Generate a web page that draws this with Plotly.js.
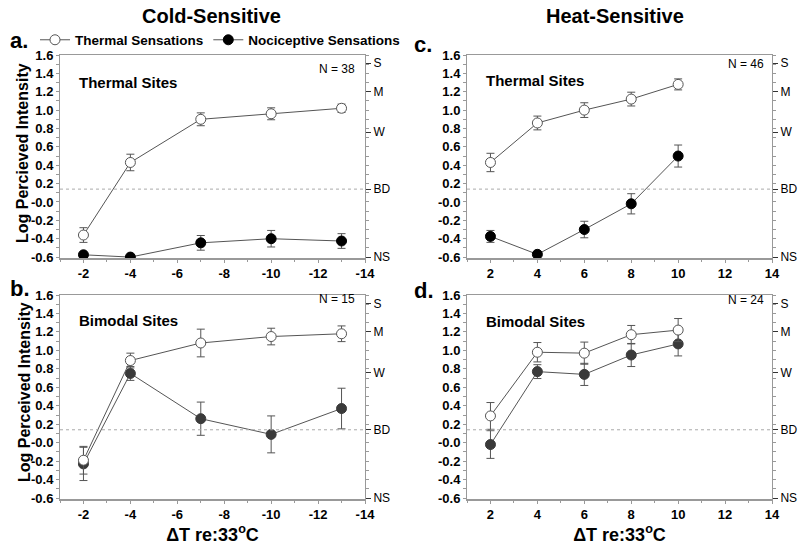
<!DOCTYPE html>
<html>
<head>
<meta charset="utf-8">
<script src="https://cdn.plot.ly/plotly-3.0.1.min.js"></script>
<style>html,body{margin:0;padding:0;background:#fff;}#chart{width:800px;height:545px;}</style>
</head>
<body>
<div id="chart"></div>
<script>
// ---- data ----
const xCold = [-2, -4, -7, -10, -13];
const xHeat = [2, 4, 6, 8, 10];

const aThermal = [-0.36, 0.43, 0.90, 0.96, 1.02];
const aThermalErr = [0.08, 0.09, 0.07, 0.065, 0.045];
const aNoci = [-0.575, -0.60, -0.445, -0.40, -0.425];
const aNociErr = [0.015, 0.01, 0.08, 0.09, 0.08];

const bThermal = [-0.19, 0.89, 1.08, 1.15, 1.18];
const bThermalErr = [0.15, 0.08, 0.15, 0.09, 0.085];
const bNoci = [-0.23, 0.75, 0.26, 0.09, 0.37];
const bNociErr = [0.18, 0.075, 0.18, 0.2, 0.22];

const cThermal = [0.43, 0.86, 1.00, 1.12, 1.28];
const cThermalErr = [0.10, 0.075, 0.08, 0.075, 0.06];
const cNoci = [-0.375, -0.57, -0.30, -0.02, 0.50];
const cNociErr = [0.065, 0.01, 0.09, 0.11, 0.12];

const dThermal = [0.29, 0.98, 0.97, 1.17, 1.22];
const dThermalErr = [0.145, 0.105, 0.12, 0.10, 0.125];
const dNoci = [-0.02, 0.77, 0.74, 0.95, 1.07];
const dNociErr = [0.15, 0.075, 0.12, 0.125, 0.13];

const yTickVals = [-0.6, -0.4, -0.2, 0, 0.2, 0.4, 0.6, 0.8, 1.0, 1.2, 1.4, 1.6];
const yTickText = ['-0.6', '-0.4', '-0.2', '-0.0', '0.2', '0.4', '0.6', '0.8', '1.0', '1.2', '1.4', '1.6'];
const scaleVals = [1.51, 1.20, 0.76, 0.14, -0.6];
const scaleText = ['S', 'M', 'W', 'BD', 'NS'];
const bdLevel = 0.14;
const coldTicks = [-2, -4, -6, -8, -10, -12, -14];
const heatTicks = [2, 4, 6, 8, 10, 12, 14];
const nLabels = ['N = 38', 'N = 15', 'N = 46', 'N = 24'];

// ---- styling ----
const FONT = 'Liberation Sans, Arial, sans-serif';
const lineCol = '#555';
const axCol = '#999';

function openTrace(x, y, e, xa, ya, show) {
  return {x: x, y: y, xaxis: xa, yaxis: ya, type: 'scatter', mode: 'lines+markers',
    name: 'Thermal Sensations', showlegend: show, legendrank: 1,
    line: {color: lineCol, width: 1},
    marker: {symbol: 'circle', size: 10, color: '#fff', line: {color: lineCol, width: 1}},
    error_y: {type: 'data', array: e, visible: true, color: lineCol, thickness: 1, width: 4}};
}
function fillTrace(x, y, e, xa, ya, col, show) {
  return {x: x, y: y, xaxis: xa, yaxis: ya, type: 'scatter', mode: 'lines+markers',
    name: 'Nociceptive Sensations', showlegend: show, legendrank: 2,
    line: {color: lineCol, width: 1},
    marker: {symbol: 'circle', size: 10, color: col, line: {color: col, width: 1}},
    error_y: {type: 'data', array: e, visible: true, color: lineCol, thickness: 1, width: 4}};
}

const data = [
  fillTrace(xCold, aNoci, aNociErr, 'x', 'y', '#000', true),
  openTrace(xCold, aThermal, aThermalErr, 'x', 'y', true),
  fillTrace(xHeat, cNoci, cNociErr, 'x2', 'y2', '#000', false),
  openTrace(xHeat, cThermal, cThermalErr, 'x2', 'y2', false),
  fillTrace(xCold, bNoci, bNociErr, 'x3', 'y3', '#3a3a3a', false),
  openTrace(xCold, bThermal, bThermalErr, 'x3', 'y3', false),
  fillTrace(xHeat, dNoci, dNociErr, 'x4', 'y4', '#3a3a3a', false),
  openTrace(xHeat, dThermal, dThermalErr, 'x4', 'y4', false)
];

const tickFont = {family: FONT, size: 13, color: '#000', weight: 'bold'};
const yRange = [-0.61, 1.6];
const colL = [60 / 800, 365 / 800];
const colR = [467 / 800, 772 / 800];
const rowT = [1 - 258 / 545, 1 - 55 / 545];
const rowB = [1 - 499 / 545, 1 - 295 / 545];

function xAx(dom, anchor, cold, title) {
  const ax = {domain: dom, anchor: anchor,
    range: cold ? [-1, -14] : [1, 14],
    tickmode: 'array', tickvals: cold ? coldTicks : heatTicks,
    ticktext: (cold ? coldTicks : heatTicks).map(String),
    ticks: 'outside', ticklen: 3, tickcolor: axCol,
    minor: {tickmode: 'linear', tick0: 1, dtick: 1, ticks: 'outside', ticklen: 2, tickcolor: axCol},
    showline: true, linecolor: axCol, linewidth: 1.5, mirror: true,
    showgrid: false, zeroline: false, tickfont: tickFont, fixedrange: true};
  if (title) {
    ax.title = {text: '\u0394T re:33<sup>o</sup>C', font: {family: FONT, size: 18, color: '#000', weight: 'bold'}, standoff: 8};
  }
  return ax;
}
function yAx(dom, anchor) {
  return {domain: dom, anchor: anchor, range: yRange,
    tickmode: 'array', tickvals: yTickVals, ticktext: yTickText,
    ticks: 'outside', ticklen: 3, tickcolor: axCol,
    minor: {tickmode: 'linear', tick0: 0, dtick: 0.1, ticks: 'outside', ticklen: 3, tickcolor: axCol},
    showline: true, linecolor: axCol, linewidth: 1, mirror: 'allticks',
    showgrid: false, zeroline: false, tickfont: tickFont, fixedrange: true};
}
function rAx(over, anchor) {
  return {overlaying: over, anchor: anchor, side: 'right', range: yRange,
    tickmode: 'array', tickvals: scaleVals, ticktext: scaleText,
    ticks: 'outside', ticklen: 5, tickcolor: '#333', ticklabelstandoff: 0,
    showline: false, showgrid: false, zeroline: false,
    tickfont: {family: FONT, size: 12, color: '#000'}, fixedrange: true};
}

const shapes = [['x', 'y'], ['x2', 'y2'], ['x3', 'y3'], ['x4', 'y4']].map(p => ({
  type: 'line', xref: p[0] + ' domain', yref: p[1], x0: 0, x1: 1, y0: bdLevel, y1: bdLevel,
  line: {color: '#aaa', width: 1, dash: 'dot'}
}));

function ann(text, x, y, size, bold, xanchor, angle) {
  const a = {text: text, xref: 'paper', yref: 'paper', x: x / 800, y: 1 - y / 545,
    xanchor: xanchor || 'left', yanchor: 'middle', showarrow: false,
    font: {family: FONT, size: size, color: '#000', weight: bold ? 'bold' : 'normal'}};
  if (angle) a.textangle = angle;
  return a;
}

const annotations = [
  ann('Cold-Sensitive', 211, 16, 20, true, 'center'),
  ann('Heat-Sensitive', 615, 16, 20, true, 'center'),
  ann('a.', 8, 41, 22, true),
  ann('b.', 8, 288, 22, true),
  ann('c.', 412, 45, 22, true),
  ann('d.', 412, 290, 22, true),
  ann('Log Percieved Intensity', 23, 153, 16, true, 'center', -90),
  ann('Log Perceived Intensity', 24, 392, 16, true, 'center', -90),
  ann('Thermal Sites', 77, 82, 15, true),
  ann('Thermal Sites', 484, 81, 15, true),
  ann('Bimodal Sites', 77, 320, 15, true),
  ann('Bimodal Sites', 484, 321, 15, true),
  ann(nLabels[0], 357, 69, 12, false, 'right'),
  ann(nLabels[1], 357, 299, 12, false, 'right'),
  ann(nLabels[2], 766, 64, 12, false, 'right'),
  ann(nLabels[3], 766, 300, 12, false, 'right')
];

const layout = {
  width: 800, height: 545,
  margin: {l: 0, r: 0, t: 0, b: 0},
  paper_bgcolor: '#fff', plot_bgcolor: '#fff',
  showlegend: true,
  legend: {orientation: 'h', x: 35 / 800, y: 1 - 40 / 545, xanchor: 'left', yanchor: 'middle',
    itemwidth: 30, traceorder: 'normal', bgcolor: 'rgba(0,0,0,0)',
    font: {family: FONT, size: 13.5, color: '#000', weight: 'bold'}},
  xaxis: xAx(colL, 'y', true, false),
  yaxis: yAx(rowT, 'x'),
  xaxis2: xAx(colR, 'y2', false, false),
  yaxis2: yAx(rowT, 'x2'),
  xaxis3: xAx(colL, 'y3', true, true),
  yaxis3: yAx(rowB, 'x3'),
  xaxis4: xAx(colR, 'y4', false, true),
  yaxis4: yAx(rowB, 'x4'),
  yaxis5: rAx('y', 'x'),
  yaxis6: rAx('y2', 'x2'),
  yaxis7: rAx('y3', 'x3'),
  yaxis8: rAx('y4', 'x4'),
  shapes: shapes,
  annotations: annotations
};

// Invisible placeholder traces so the right-hand scale axes are drawn
const rightTraces = [['x', 'y5'], ['x2', 'y6'], ['x3', 'y7'], ['x4', 'y8']].map(p => ({
  x: [null], y: [null], xaxis: p[0], yaxis: p[1], type: 'scatter', mode: 'markers',
  showlegend: false, hoverinfo: 'skip'
}));

Plotly.newPlot('chart', data.concat(rightTraces), layout, {displayModeBar: false, staticPlot: true});
</script>
</body>
</html>
